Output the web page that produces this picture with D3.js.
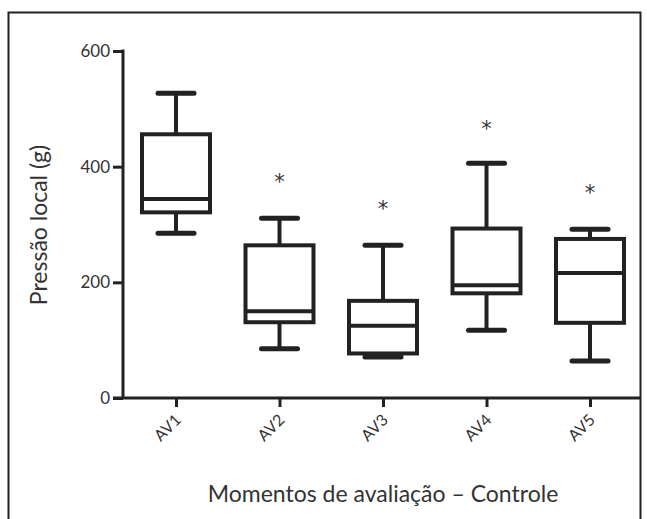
<!DOCTYPE html>
<html>
<head>
<meta charset="utf-8">
<script src="https://cdnjs.cloudflare.com/ajax/libs/d3/7.8.5/d3.min.js"></script>
<style>
    body { margin: 0; background: #fff; }
    .tick-label { font-family: "Lato", "Open Sans", sans-serif; fill: #333; }
</style>
</head>
<body>
<div id="box-chart"></div>
<script>

// evaluation moments and box values (g)
var categories = ["AV1", "AV2", "AV3", "AV4", "AV5"];
var whiskerLow = [285, 85, 71, 117, 64];
var q1 = [321, 131, 77, 181, 130];
var median = [344, 150, 125, 195, 216];
var q3 = [456, 264, 168, 293, 275];
var whiskerHigh = [527, 311, 264, 406, 292];
// significance marks (null = no mark)
var starValues = [null, 377, 330, 469, 358];
var yTicks = [0, 200, 400, 600];

BoxChart = function(_parentElement) {
    this.parentElement = _parentElement;
    this.displayData = [];
    this.initVis();
};

BoxChart.prototype.initVis = function() {
    var vis = this;

    vis.width = 647;
    vis.height = 519;
    vis.ink = "#222";

    vis.svg = d3.select("#" + vis.parentElement).append("svg")
        .attr("width", vis.width)
        .attr("height", vis.height);

    // frame around the figure
    vis.svg.append("rect")
        .attr("x", 8.5)
        .attr("y", 12.5)
        .attr("width", 632)
        .attr("height", 540)
        .attr("fill", "none")
        .attr("stroke", vis.ink)
        .attr("stroke-width", 2);

    vis.axisX = 123;
    vis.baseY = 398;

    vis.y = d3.scaleLinear()
        .domain([0, 600])
        .range([vis.baseY, 51]);

    vis.x = d3.scalePoint()
        .domain(categories)
        .range([176, 590]);

    vis.yAxis = d3.axisLeft(vis.y)
        .tickValues(yTicks)
        .tickSize(10)
        .tickPadding(3)
        .tickFormat(d3.format("d"));

    vis.xAxis = d3.axisBottom(vis.x)
        .tickSize(9)
        .tickFormat("");

    vis.svg.append("g")
        .attr("class", "y-axis axis")
        .attr("transform", "translate(" + vis.axisX + ",0)");

    vis.svg.append("g")
        .attr("class", "x-axis axis")
        .attr("transform", "translate(0," + vis.baseY + ")");

    //y axis label text
    vis.svg.append("text")
        .attr("text-anchor", "middle")
        .attr("transform", "translate(47,225) rotate(-90)")
        .style("font-family", "Lato, 'Open Sans', sans-serif")
        .style("font-size", "23px")
        .style("fill", "#333")
        .text("Pressão local (g)");

    //x axis label text
    vis.svg.append("text")
        .attr("text-anchor", "middle")
        .attr("x", 383)
        .attr("y", 502)
        .style("font-family", "Lato, 'Open Sans', sans-serif")
        .style("font-size", "23px")
        .style("fill", "#333")
        .text("Momentos de avaliação – Controle");

    vis.wrangleData();
};

BoxChart.prototype.wrangleData = function() {
    var vis = this;

    vis.displayData = categories.map(function(c, i) {
        return {
            key: c,
            lo: whiskerLow[i],
            q1: q1[i],
            med: median[i],
            q3: q3[i],
            hi: whiskerHigh[i],
            star: starValues[i]
        };
    });

    vis.updateVis();
};

BoxChart.prototype.updateVis = function() {
    var vis = this;

    var boxW = 68;
    var capW = 36;

    // axes
    var yG = vis.svg.select(".y-axis").call(vis.yAxis);
    yG.select(".domain").remove();
    yG.selectAll("line").attr("stroke", vis.ink).attr("stroke-width", 3);
    yG.selectAll("text")
        .attr("class", "tick-label")
        .style("font-size", "17px")
        .attr("fill", "#333");

    vis.svg.append("line")
        .attr("x1", vis.axisX)
        .attr("x2", vis.axisX)
        .attr("y1", vis.y(600) - 1.5)
        .attr("y2", vis.baseY)
        .attr("stroke", vis.ink)
        .attr("stroke-width", 3);

    var xG = vis.svg.select(".x-axis").call(vis.xAxis);
    xG.select(".domain").remove();
    xG.selectAll("line").attr("stroke", vis.ink).attr("stroke-width", 3);

    vis.svg.append("line")
        .attr("x1", vis.axisX - 10)
        .attr("x2", 641)
        .attr("y1", vis.baseY)
        .attr("y2", vis.baseY)
        .attr("stroke", vis.ink)
        .attr("stroke-width", 3);

    // rotated category labels
    vis.svg.selectAll(".cat-label")
        .data(vis.displayData)
        .enter()
        .append("text")
        .attr("class", "cat-label tick-label")
        .attr("text-anchor", "end")
        .attr("transform", function(d) {
            return "translate(" + (vis.x(d.key) + 6) + "," + (vis.baseY + 23) + ") rotate(-45)";
        })
        .style("font-size", "16px")
        .text(function(d) { return d.key; });

    var boxes = vis.svg.selectAll(".box")
        .data(vis.displayData)
        .enter()
        .append("g")
        .attr("class", "box")
        .attr("transform", function(d) { return "translate(" + vis.x(d.key) + ",0)"; });

    // whisker stems
    boxes.append("line")
        .attr("y1", function(d) { return vis.y(d.hi); })
        .attr("y2", function(d) { return vis.y(d.q3); })
        .attr("stroke", vis.ink)
        .attr("stroke-width", 4);

    boxes.append("line")
        .attr("y1", function(d) { return vis.y(d.q1); })
        .attr("y2", function(d) { return vis.y(d.lo); })
        .attr("stroke", vis.ink)
        .attr("stroke-width", 4);

    // caps
    ["hi", "lo"].forEach(function(k) {
        boxes.append("line")
            .attr("x1", -capW / 2)
            .attr("x2", capW / 2)
            .attr("y1", function(d) { return vis.y(d[k]); })
            .attr("y2", function(d) { return vis.y(d[k]); })
            .attr("stroke", vis.ink)
            .attr("stroke-width", 5)
            .attr("stroke-linecap", "round");
    });

    // box
    boxes.append("rect")
        .attr("x", -boxW / 2)
        .attr("width", boxW)
        .attr("y", function(d) { return vis.y(d.q3); })
        .attr("height", function(d) { return vis.y(d.q1) - vis.y(d.q3); })
        .attr("fill", "#fff")
        .attr("stroke", vis.ink)
        .attr("stroke-width", 4);

    // median
    boxes.append("line")
        .attr("x1", -boxW / 2)
        .attr("x2", boxW / 2)
        .attr("y1", function(d) { return vis.y(d.med); })
        .attr("y2", function(d) { return vis.y(d.med); })
        .attr("stroke", vis.ink)
        .attr("stroke-width", 4);

    // significance stars
    boxes.filter(function(d) { return d.star !== null; })
        .append("text")
        .attr("text-anchor", "middle")
        .attr("y", function(d) { return vis.y(d.star) + 9; })
        .style("font-family", "'DejaVu Sans', sans-serif")
        .style("font-size", "21px")
        .style("fill", "#333")
        .text("*");
};

new BoxChart("box-chart");

</script>
</body>
</html>
